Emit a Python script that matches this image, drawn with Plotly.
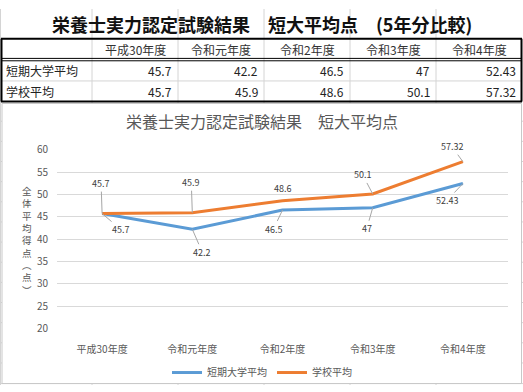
import plotly.graph_objects as go

# ---------------- data ----------------
categories = ["平成30年度", "令和元年度", "令和2年度", "令和3年度", "令和4年度"]
series_names = ["短期大学平均", "学校平均"]
tandai_avg = [45.7, 42.2, 46.5, 47, 52.43]
school_avg = [45.7, 45.9, 48.6, 50.1, 57.32]

sheet_title = "栄養士実力認定試験結果　短大平均点　(5年分比較)"
chart_title = "栄養士実力認定試験結果　短大平均点"
y_title_chars = ["全", "体", "平", "均", "得", "点", "︵", "点", "︶"]

# label offsets (pixels) for data labels: (ax, ay)
tandai_offsets = [(19, 16), (10, 23), (-9, 19), (-6, 21), (-16, 17)]
school_offsets = [(-1, -30), (-1, -30), None, (-10, -19), (-11, -15)]

W, H = 523, 392
FONT = "Noto Sans CJK JP"
BLUE = "#5B9BD5"
ORANGE = "#ED7D31"
GRID = "#D9D9D9"
SHEET = "#D4D4D4"
TXT = "#595959"


def px(x):
    return x / W


def py(y):
    return 1 - y / H


shapes = []
annotations = []


def hline(y, x0, x1, color, width=1):
    shapes.append(dict(type="line", xref="paper", yref="paper", layer="below",
                       x0=px(x0), x1=px(x1), y0=py(y), y1=py(y),
                       line=dict(color=color, width=width)))


def vline(x, y0, y1, color, width=1):
    shapes.append(dict(type="line", xref="paper", yref="paper", layer="below",
                       x0=px(x), x1=px(x), y0=py(y0), y1=py(y1),
                       line=dict(color=color, width=width)))


# spreadsheet gridlines
col_bounds = [1, 92, 178, 264, 350, 436, 522]
for x in col_bounds[1:-1]:
    vline(x, 0, H, SHEET)
vline(0.5, 0, H, SHEET)
for y in [117, 138, 159, 180, 201, 222, 243, 264, 285, 306, 327, 348, 369, 390.5]:
    hline(y, 0, W, SHEET)

# table borders
hline(75, 1, 522, SHEET)
hline(31, 1, 522, "black", 2)
hline(51.5, 1, 522, "black", 1)
hline(54, 1, 522, "black", 1)
hline(96.5, 1, 522, "black", 2)
vline(1.5, 31, 96.5, "black", 2)
vline(521.5, 31, 96.5, "black", 2)

# chart area box
shapes.append(dict(type="rect", xref="paper", yref="paper", layer="below",
                   x0=px(2), x1=px(521.5), y0=py(390.5), y1=py(98.5),
                   fillcolor="white", line=dict(color="#C8C8C8", width=1)))

# sheet title
annotations.append(dict(text="<b>" + sheet_title + "</b>", xref="paper", yref="paper",
                        x=px(262), y=py(16), showarrow=False,
                        font=dict(family=FONT, size=18, color="#111111"),
                        xanchor="center", yanchor="middle"))

# table header
for i, c in enumerate(categories):
    cx = (col_bounds[i + 1] + col_bounds[i + 2]) / 2
    annotations.append(dict(text=c, xref="paper", yref="paper", x=px(cx), y=py(42),
                            showarrow=False, xanchor="center", yanchor="middle",
                            font=dict(family=FONT, size=12, color="#333333")))

# table rows
for r, (name, vals) in enumerate(zip(series_names, [tandai_avg, school_avg])):
    ry = [64, 86][r]
    annotations.append(dict(text=name, xref="paper", yref="paper", x=px(4), y=py(ry),
                            showarrow=False, xanchor="left", yanchor="middle",
                            font=dict(family=FONT, size=12, color="#222222")))
    for i, v in enumerate(vals):
        rx = col_bounds[i + 2] - 4
        annotations.append(dict(text=f"{v:g}", xref="paper", yref="paper", x=px(rx), y=py(ry),
                                showarrow=False, xanchor="right", yanchor="middle",
                                font=dict(family=FONT, size=12, color="#222222")))

# chart title
annotations.append(dict(text=chart_title, xref="paper", yref="paper", x=px(262), y=py(117),
                        showarrow=False, xanchor="center", yanchor="middle",
                        font=dict(family=FONT, size=16, color=TXT)))

# y-axis title (stacked vertical)
annotations.append(dict(text="<br>".join(y_title_chars), xref="paper", yref="paper",
                        x=px(27), y=py(241), showarrow=False, xanchor="center", yanchor="middle",
                        font=dict(family=FONT, size=9.5, color=TXT)))

# data labels
for vals, offs in [(tandai_avg, tandai_offsets), (school_avg, school_offsets)]:
    for c, v, o in zip(categories, vals, offs):
        if o is None:
            annotations.append(dict(text=f"{v:g}", x=c, y=v, xref="x", yref="y",
                                    showarrow=False, yshift=12,
                                    font=dict(family=FONT, size=9, color="#404040")))
        else:
            annotations.append(dict(text=f"{v:g}", x=c, y=v, xref="x", yref="y",
                                    showarrow=True, arrowhead=0, arrowwidth=1,
                                    arrowcolor="#A6A6A6", ax=o[0], ay=o[1], standoff=0,
                                    font=dict(family=FONT, size=9, color="#404040")))

fig = go.Figure()
fig.add_trace(go.Scatter(x=categories, y=tandai_avg, name=series_names[0], mode="lines",
                         line=dict(color=BLUE, width=3)))
fig.add_trace(go.Scatter(x=categories, y=school_avg, name=series_names[1], mode="lines",
                         line=dict(color=ORANGE, width=3)))

fig.update_layout(
    width=W, height=H,
    margin=dict(l=0, r=0, t=0, b=0),
    paper_bgcolor="white",
    plot_bgcolor="rgba(0,0,0,0)",
    font=dict(family=FONT, color=TXT),
    shapes=shapes,
    annotations=annotations,
    showlegend=True,
    legend=dict(orientation="h", x=px(262), y=py(379), xanchor="center", yanchor="middle",
                font=dict(family=FONT, size=10, color=TXT), bgcolor="rgba(0,0,0,0)"),
    xaxis=dict(domain=[px(57), px(508)], type="category", range=[-0.5, 4.5],
               showgrid=False, zeroline=False, showline=False, ticks="",
               tickfont=dict(family=FONT, size=10, color=TXT), ticklabelstandoff=14),
    yaxis=dict(domain=[py(333), py(146.7)], range=[20, 60], dtick=5,
               showgrid=True, gridcolor=GRID, gridwidth=1, zeroline=False, showline=False,
               ticks="", tickfont=dict(family=FONT, size=10, color=TXT), ticklabelstandoff=8),
)

fig.write_html("out.html", config={"displayModeBar": False},
               post_script="document.body.style.margin='0';")
